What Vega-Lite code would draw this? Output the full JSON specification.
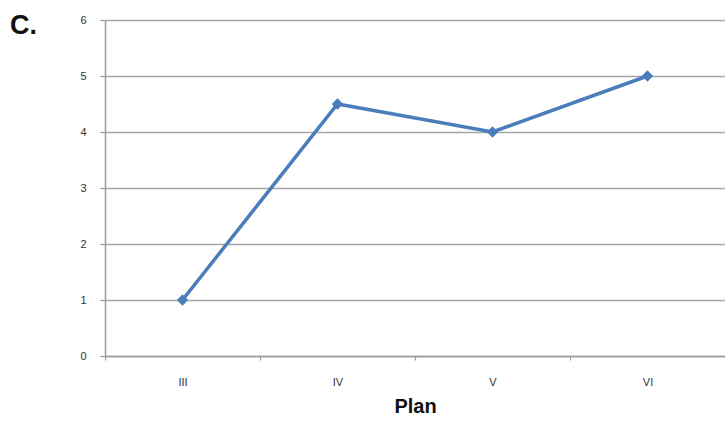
{
  "$schema": "https://vega.github.io/schema/vega-lite/v6.json",
  "autosize": "none",
  "width": 620,
  "height": 336,
  "padding": {"left": 105, "top": 20, "right": 0, "bottom": 65},
  "background": "white",
  "title": {
    "text": "C.",
    "anchor": "start",
    "frame": "group",
    "dx": -95,
    "dy": 26,
    "offset": 0,
    "font": "Liberation Sans",
    "fontSize": 27,
    "fontWeight": "bold",
    "color": "#111111"
  },
  "data": {
    "values": [
      {"Plan": "III", "value": 1},
      {"Plan": "IV", "value": 4.5},
      {"Plan": "V", "value": 4},
      {"Plan": "VI", "value": 5}
    ]
  },
  "config": {
    "view": {"stroke": null},
    "axis": {
      "labelFont": "Liberation Sans",
      "labelFontSize": 11,
      "labelColor": "#333333",
      "domainColor": "#9a9a9a",
      "domainWidth": 1.5,
      "tickColor": "#9a9a9a",
      "tickWidth": 1.2,
      "gridColor": "#a6a6a6",
      "gridWidth": 1.5
    }
  },
  "encoding": {
    "x": {
      "field": "Plan",
      "type": "ordinal",
      "sort": ["III", "IV", "V", "VI"],
      "scale": {"type": "band", "paddingInner": 0, "paddingOuter": 0},
      "axis": {
        "title": "Plan",
        "titleFont": "Liberation Sans",
        "titleFontSize": 20,
        "titleFontWeight": "bold",
        "titleColor": "#111111",
        "titlePadding": 9,
        "labelAngle": 0,
        "labelPadding": 16,
        "tickBand": "extent",
        "tickSize": 4,
        "grid": false
      }
    },
    "y": {
      "field": "value",
      "type": "quantitative",
      "scale": {"domain": [0, 6], "nice": false},
      "axis": {
        "title": null,
        "values": [0, 1, 2, 3, 4, 5, 6],
        "tickSize": 5,
        "labelPadding": 14,
        "grid": true
      }
    }
  },
  "layer": [
    {
      "mark": {"type": "line", "color": "#4a7ebb", "strokeWidth": 3.5}
    },
    {
      "mark": {"type": "point", "shape": "diamond", "filled": true, "color": "#4a7ebb", "opacity": 1, "size": 130}
    }
  ]
}
